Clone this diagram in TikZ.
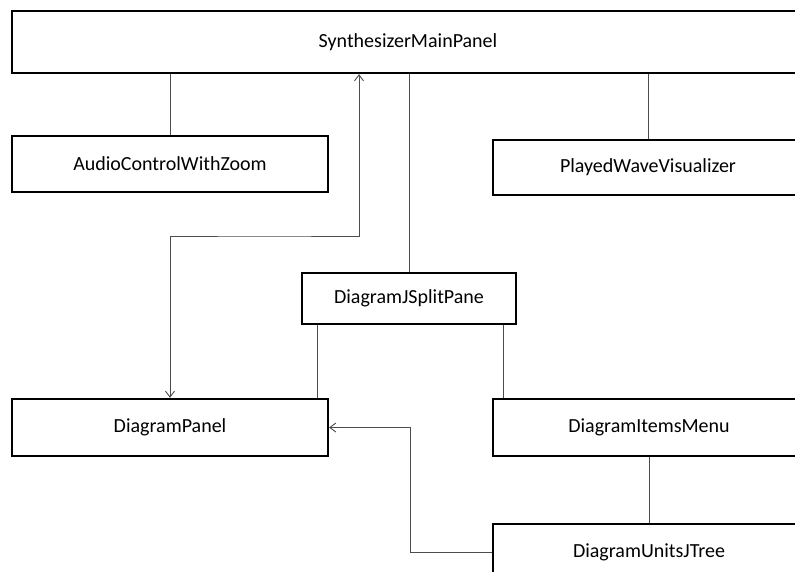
\documentclass[tikz,border=0pt]{standalone}
\usepackage{fontspec}
\setmainfont{Carlito}
\usetikzlibrary{arrows.meta}

\begin{document}
\begin{tikzpicture}[x=1pt,y=-1pt,
    box/.style={draw=black, line width=2.2pt, fill=white, inner sep=0pt,
        font=\fontsize{20}{23}\selectfont},
    link/.style={draw=black!70, line width=0.9pt},
    >={Straight Barb[length=6pt,width=9pt]}]
    \useasboundingbox (0,0) rectangle (795,572);
    \clip (0,0) rectangle (795,572);
    % classes (the right column runs past the page edge)
    \node[box, minimum width=792pt, minimum height=62pt] (main) at (408,42) {SynthesizerMainPanel};
    \node[box, minimum width=316pt, minimum height=56pt] (audio) at (170,164) {AudioControlWithZoom};
    \node[box, minimum width=310pt, minimum height=55pt] (wave) at (648,167.5) {PlayedWaveVisualizer};
    \node[box, minimum width=214pt, minimum height=51pt] (split) at (409,298.5) {DiagramJSplitPane};
    \node[box, minimum width=316pt, minimum height=57pt] (panel) at (170,427.5) {DiagramPanel};
    \node[box, minimum width=312pt, minimum height=57pt] (items) at (649,427.5) {DiagramItemsMenu};
    \node[box, minimum width=312pt, minimum height=56pt] (tree) at (649,552) {DiagramUnitsJTree};
    % containment
    \draw[link] (audio.north) -- (audio.north |- main.south);
    \draw[link] (wave.north) -- (wave.north |- main.south);
    \draw[link] (split.north) -- (split.north |- main.south);
    \draw[link] ([xshift=17pt]split.south west) -- ([xshift=17pt]split.south west |- panel.north);
    \draw[link] ([xshift=-14pt]split.south east) -- ([xshift=-14pt]split.south east |- items.north);
    \draw[link] (items.south) -- (items.south |- tree.north);
    % references
    \coordinate (bend) at (264,236);
    \draw[link, <->] (panel.north) |- (bend) -| ([xshift=-49pt]main.south);
    \draw[link, ->] (tree.west) -- ++(-81,0) |- (panel.east);
\end{tikzpicture}
\end{document}
